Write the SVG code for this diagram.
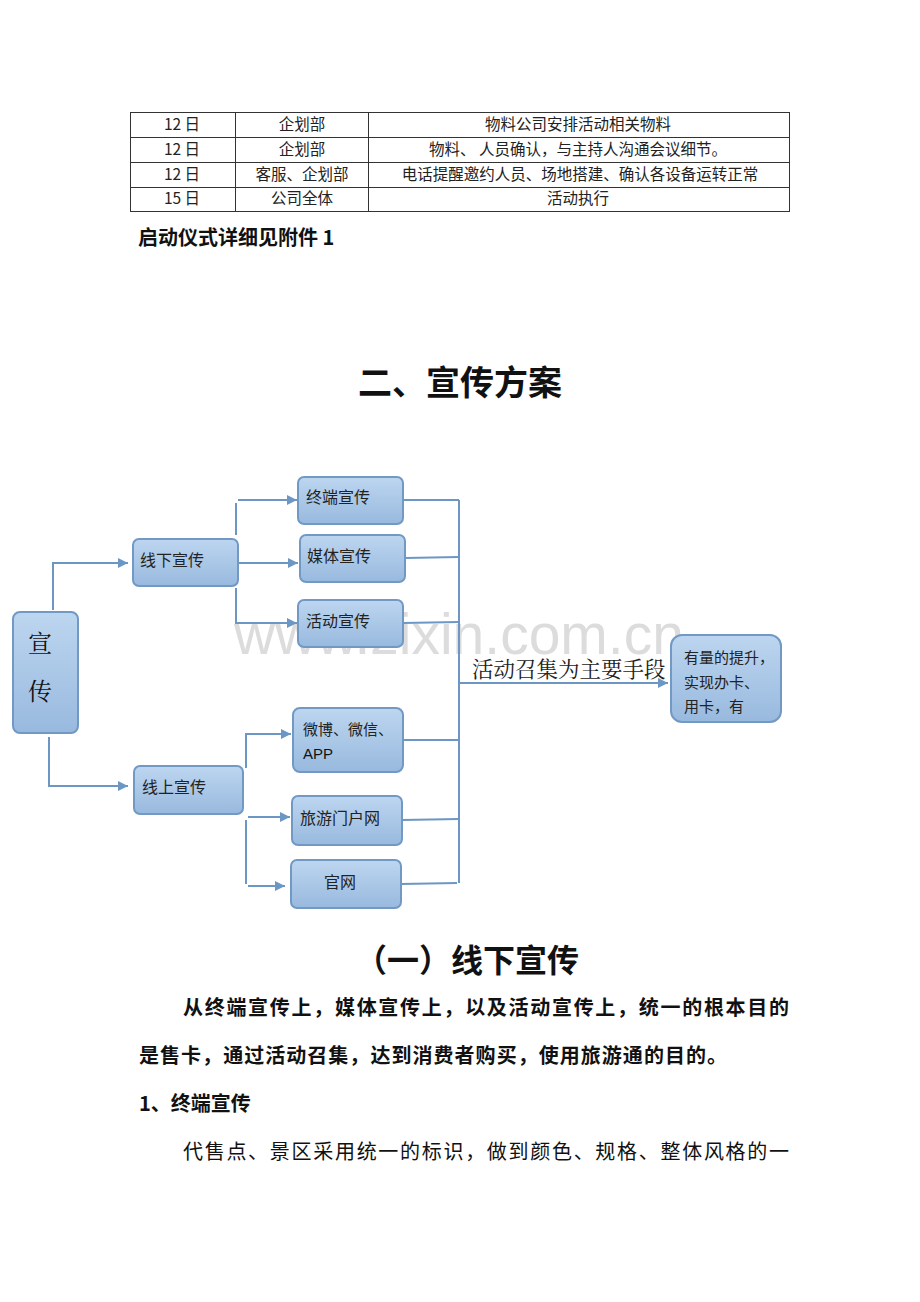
<svg xmlns="http://www.w3.org/2000/svg" width="920" height="1302" viewBox="0 0 920 1302">
<defs>
<linearGradient id="g" x1="0" y1="0" x2="0" y2="1">
<stop offset="0" stop-color="#bdd6f0"/>
<stop offset="1" stop-color="#98b9de"/>
</linearGradient>
<marker id="a" viewBox="0 0 10 10" refX="10" refY="5" markerWidth="10" markerHeight="10" orient="auto" markerUnits="userSpaceOnUse">
<path d="M0,0 L10,5 L0,10 z" fill="#6c97c4"/>
</marker>
</defs>
<style>
.box{fill:url(#g);stroke:#7199c4;stroke-width:2}
.t{font-family:"Noto Sans CJK SC","Liberation Sans",sans-serif;font-size:16px;fill:#222}
.t2{font-family:"Noto Sans CJK SC","Liberation Sans",sans-serif;font-size:15px;fill:#222}
.c{fill:none;stroke:#6c97c4;stroke-width:2}
.tl{stroke:#333;stroke-width:1;fill:none}
.tb{font-family:"Noto Sans CJK SC","Liberation Sans",sans-serif;font-size:15.5px;fill:#222;text-anchor:middle}
.b{font-family:"Noto Sans CJK SC",sans-serif;font-weight:bold;fill:#111}
.p{font-family:"Noto Sans CJK SC",sans-serif;font-size:20px;fill:#111}
</style>
<rect width="920" height="1302" fill="#fff"/>
<g id="table">
<rect class="tl" x="130.5" y="112.5" width="659" height="99"/>
<line class="tl" x1="130" y1="137.5" x2="790" y2="137.5"/>
<line class="tl" x1="130" y1="162.5" x2="790" y2="162.5"/>
<line class="tl" x1="130" y1="187.5" x2="790" y2="187.5"/>
<line class="tl" x1="235.5" y1="112" x2="235.5" y2="212"/>
<line class="tl" x1="368.5" y1="112" x2="368.5" y2="212"/>
<text class="tb" x="182" y="130">12 日</text>
<text class="tb" x="302" y="130">企划部</text>
<text class="tb" x="578" y="130">物料公司安排活动相关物料</text>
<text class="tb" x="182" y="155">12 日</text>
<text class="tb" x="302" y="155">企划部</text>
<text class="tb" x="578" y="155">物料、 人员确认，与主持人沟通会议细节。</text>
<text class="tb" x="182" y="180">12 日</text>
<text class="tb" x="302" y="180">客服、企划部</text>
<text class="tb" x="580" y="180">电话提醒邀约人员、场地搭建、确认各设备运转正常</text>
<text class="tb" x="182" y="204">15 日</text>
<text class="tb" x="302" y="204">公司全体</text>
<text class="tb" x="578" y="204">活动执行</text>
</g>
<text class="b" x="138" y="245" font-size="20">启动仪式详细见附件 1</text>
<text class="b" x="460" y="395" font-size="34" text-anchor="middle">二、宣传方案</text>
<text x="459" y="654" font-family="Liberation Sans,sans-serif" font-size="57" fill="#dcdcdc" text-anchor="middle">www.zixin.com.cn</text>
<g id="connectors">
<polyline class="c" points="53,610 53,563 128,563" marker-end="url(#a)"/>
<polyline class="c" points="49,737 49,786 128,786" marker-end="url(#a)"/>
<line class="c" x1="236" y1="503" x2="236" y2="535"/>
<line class="c" x1="238" y1="500" x2="297" y2="500" marker-end="url(#a)"/>
<line class="c" x1="238" y1="563" x2="298" y2="563" marker-end="url(#a)"/>
<polyline class="c" points="236,588 236,623 297,623" marker-end="url(#a)"/>
<polyline class="c" points="246,768 246,734 291,734" marker-end="url(#a)"/>
<line class="c" x1="246" y1="820" x2="246" y2="884"/>
<line class="c" x1="248" y1="817" x2="290" y2="817" marker-end="url(#a)"/>
<line class="c" x1="248" y1="886" x2="285" y2="886" marker-end="url(#a)"/>
<line class="c" x1="459" y1="500" x2="459" y2="883"/>
<line class="c" x1="403" y1="500" x2="459" y2="500"/>
<line class="c" x1="405" y1="558" x2="459" y2="557"/>
<line class="c" x1="403" y1="623" x2="459" y2="622"/>
<line class="c" x1="403" y1="740" x2="459" y2="740"/>
<line class="c" x1="402" y1="820" x2="459" y2="819"/>
<line class="c" x1="401" y1="884" x2="457" y2="883"/>
<line class="c" x1="459" y1="683" x2="668" y2="683" marker-end="url(#a)"/>
<text x="472" y="677" font-family="Noto Serif CJK SC,Noto Sans CJK SC,serif" font-size="21.5" fill="#222">活动召集为主要手段</text>
</g>
<g id="n-xuanchuan"><rect class="box" x="13" y="612" width="65" height="121" rx="7"/>
<text x="28" y="652" font-family="Noto Serif CJK SC,Noto Sans CJK SC,serif" font-size="24" fill="#111">宣</text>
<text x="28" y="700" font-family="Noto Serif CJK SC,Noto Sans CJK SC,serif" font-size="24" fill="#111">传</text></g>
<g id="n-xianxia"><rect class="box" x="133" y="539" width="105" height="47" rx="6"/><text class="t" x="140" y="566">线下宣传</text></g>
<g id="n-zhongduan"><rect class="box" x="298" y="477" width="105" height="47" rx="6"/><text class="t" x="306" y="503">终端宣传</text></g>
<g id="n-meiti"><rect class="box" x="300" y="535" width="105" height="47" rx="6"/><text class="t" x="307" y="562">媒体宣传</text></g>
<g id="n-huodong"><rect class="box" x="298" y="600" width="105" height="47" rx="6"/><text class="t" x="306" y="627">活动宣传</text></g>
<g id="n-weibo"><rect class="box" x="293" y="708" width="110" height="64" rx="7"/><text class="t2" x="303" y="735">微博、微信、</text><text x="303" y="759" font-family="Liberation Sans,sans-serif" font-size="15" fill="#111">APP</text></g>
<g id="n-xianshang"><rect class="box" x="134" y="766" width="109" height="48" rx="6"/><text class="t" x="142" y="793">线上宣传</text></g>
<g id="n-lvyou"><rect class="box" x="292" y="796" width="110" height="49" rx="6"/><text class="t" x="300" y="824">旅游门户网</text></g>
<g id="n-guanwang"><rect class="box" x="291" y="860" width="110" height="48" rx="6"/><text class="t" x="324" y="888">官网</text></g>
<g id="n-result"><rect class="box" x="671" y="635" width="110" height="87" rx="11"/>
<text class="t2" x="684" y="663">有量的提升，</text><text class="t2" x="684" y="688">实现办卡、</text><text class="t2" x="684" y="712">用卡，有</text></g>
<text class="b" x="467" y="972" font-size="32" text-anchor="middle">（一）线下宣传</text>
<text class="p" font-weight="bold" x="183" y="1015" textLength="606">从终端宣传上，媒体宣传上，以及活动宣传上，统一的根本目的</text>
<text class="p" font-weight="bold" x="139" y="1063" textLength="588">是售卡，通过活动召集，达到消费者购买，使用旅游通的目的。</text>
<text class="p" font-weight="bold" x="139" y="1111" font-size="20">1、终端宣传</text>
<text class="p" x="183" y="1159" textLength="606">代售点、景区采用统一的标识，做到颜色、规格、整体风格的一</text>
</svg>
